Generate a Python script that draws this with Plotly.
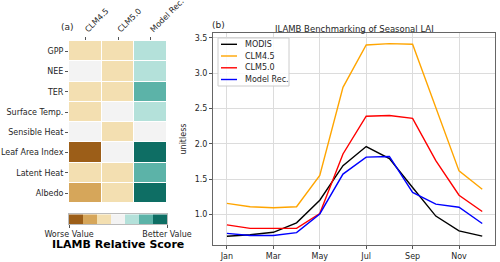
import plotly.graph_objects as go

# ---------------- data ----------------
models = ["CLM4.5", "CLM5.0", "Model Rec."]
variables = ["GPP", "NEE", "TER", "Surface Temp.", "Sensible Heat",
             "Leaf Area Index", "Latent Heat", "Albedo"]
# relative score class (0 = worst ... 6 = best)
scores = [
    [2, 2, 4],
    [3, 2, 4],
    [2, 2, 5],
    [2, 3, 4],
    [3, 2, 3],
    [0, 3, 6],
    [2, 2, 5],
    [1, 2, 6],
]
class_colors = ["#9c5e18", "#d6a65a", "#f3dfb1", "#f3f3f3",
                "#b4e1da", "#5cb3a8", "#0e6e64"]

months = ["Jan", "Feb", "Mar", "Apr", "May", "Jun",
          "Jul", "Aug", "Sep", "Oct", "Nov", "Dec"]
month_ticks = ["Jan", "Mar", "May", "Jul", "Sep", "Nov"]
modis = [0.69, 0.71, 0.745, 0.88, 1.20, 1.69, 1.96, 1.79, 1.38, 0.975, 0.765, 0.69]
clm45 = [1.155, 1.108, 1.094, 1.108, 1.55, 2.80, 3.40, 3.42, 3.41, 2.50, 1.615, 1.356]
clm50 = [0.85, 0.80, 0.80, 0.80, 1.01, 1.855, 2.39, 2.40, 2.36, 1.76, 1.27, 1.04]
modelrec = [0.73, 0.70, 0.70, 0.74, 1.005, 1.57, 1.81, 1.82, 1.31, 1.145, 1.10, 0.87]
series_names = ["MODIS", "CLM4.5", "CLM5.0", "Model Rec."]
series_values = [modis, clm45, clm50, modelrec]
series_colors = ["black", "orange", "red", "blue"]

# ---------------- figure ----------------
W, H = 500, 262
def px(x): return x / W
def py(y): return 1 - y / H

n = len(class_colors)
cs = []
for i, c in enumerate(class_colors):
    cs.append([i / n, c]); cs.append([(i + 1) / n, c])

fig = go.Figure()
FONT = "DejaVu Sans"
TXT = "#262626"

# heatmap (a)
fig.add_trace(go.Heatmap(
    z=scores, x=models, y=variables, colorscale=cs, zmin=-0.5, zmax=n - 0.5,
    showscale=False, xgap=1, ygap=1, xaxis="x", yaxis="y", hoverinfo="skip"))

# discrete colour bar
fig.add_trace(go.Heatmap(
    z=[list(range(n))], x0=0.5, dx=1, colorscale=cs, zmin=-0.5, zmax=n - 0.5,
    showscale=False, xaxis="x2", yaxis="y2", hoverinfo="skip"))

# line chart (b)
for name, vals, col in zip(series_names, series_values, series_colors):
    fig.add_trace(go.Scatter(x=list(range(12)), y=vals, name=name, mode="lines",
                             line=dict(color=col, width=1.4), xaxis="x3", yaxis="y3",
                             showlegend=False))

tickfont = dict(family=FONT, size=8, color=TXT)
fig.update_layout(
    width=W, height=H, margin=dict(l=0, r=0, t=0, b=0, autoexpand=False),
    paper_bgcolor="white", plot_bgcolor="white",
    font=dict(family=FONT, size=8, color=TXT),
    xaxis=dict(domain=[px(69), px(167)], anchor="y", side="top", tickangle=-45,
               ticks="outside", ticklen=3, tickcolor="#555", tickfont=tickfont,
               showgrid=False, zeroline=False, automargin=False),
    yaxis=dict(domain=[py(203.3), py(41)], anchor="x", autorange="reversed",
               ticks="outside", ticklen=3, tickcolor="#555", tickfont=tickfont,
               showgrid=False, zeroline=False, automargin=False),
    xaxis2=dict(domain=[px(69), px(167)], anchor="y2", range=[0, n],
                tickvals=[0, n], ticktext=["Worse Value", "Better Value"],
                ticks="outside", ticklen=3, tickcolor="#555", tickfont=tickfont,
                showgrid=False, zeroline=False, showline=True, mirror=True,
                linecolor="#bbbbbb", linewidth=0.5, automargin=False),
    yaxis2=dict(domain=[py(224), py(214.3)], anchor="x2", range=[-0.5, 0.5],
                showticklabels=False, ticks="", showgrid=False, zeroline=False,
                showline=True, mirror=True, linecolor="#bbbbbb", linewidth=0.5,
                automargin=False),
    xaxis3=dict(domain=[px(213), px(495)], anchor="y3", range=[-0.6, 11.55],
                tickvals=[0, 2, 4, 6, 8, 10], ticktext=month_ticks,
                ticks="outside", ticklen=3, tickcolor="#555", tickfont=tickfont,
                showgrid=True, gridcolor="#dcdcdc", gridwidth=1, zeroline=False,
                showline=True, mirror=True, linecolor="#666", linewidth=1,
                automargin=False),
    yaxis3=dict(domain=[py(245), py(33)], anchor="x3", range=[0.565, 3.57],
                tickvals=[1.0, 1.5, 2.0, 2.5, 3.0, 3.5], tickformat=".1f",
                ticks="outside", ticklen=3, tickcolor="#555", tickfont=tickfont,
                showgrid=True, gridcolor="#dcdcdc", gridwidth=1, zeroline=False,
                showline=True, mirror=True, linecolor="#666", linewidth=1,
                automargin=False,
                title=dict(text="unitless", font=dict(family=FONT, size=8, color=TXT),
                           standoff=6)),
    showlegend=False,
)

# legend drawn compactly (matplotlib-like spacing)
lx0, lx1, ly0, ly1 = 218, 289, 38, 86
fig.add_shape(type="rect", xref="paper", yref="paper",
              x0=px(lx0), x1=px(lx1), y0=py(ly1), y1=py(ly0),
              line=dict(color="#cccccc", width=1), fillcolor="rgba(255,255,255,0.85)",
              layer="above")
entry_y = [44.3, 56.0, 67.8, 79.5]
for name, col, yy in zip(series_names, series_colors, entry_y):
    fig.add_shape(type="line", xref="paper", yref="paper",
                  x0=px(221), x1=px(237), y0=py(yy), y1=py(yy),
                  line=dict(color=col, width=1.4), layer="above")
    fig.add_annotation(text=name, x=px(242.5), y=py(yy), xref="paper", yref="paper",
                       xanchor="left", yanchor="middle", showarrow=False,
                       font=dict(family=FONT, size=8, color=TXT))

def label(text, x, y, size, color=TXT):
    fig.add_annotation(text=text, x=px(x), y=py(y), xref="paper", yref="paper",
                       xanchor="center", yanchor="middle", showarrow=False,
                       font=dict(family=FONT, size=size, color=color))

label("(a)", 67.5, 27, 9)
label("(b)", 218.5, 25, 9)
label("ILAMB Benchmarking of Seasonal LAI", 354, 29, 8.5)
label("<b>ILAMB Relative Score</b>", 118, 244, 11, "black")

fig.write_html("out.html", config={"displayModeBar": False},
               post_script="document.body.style.margin='0';")
